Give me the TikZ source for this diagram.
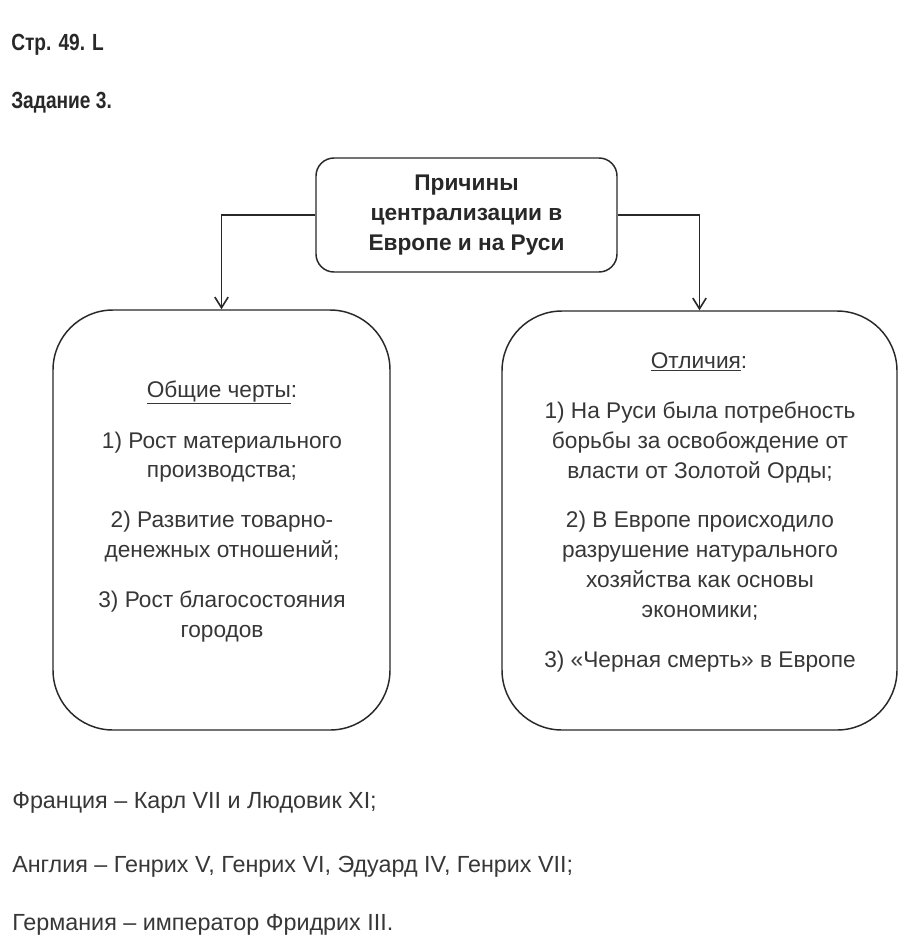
\documentclass[tikz,border=0pt]{standalone}
\usepackage{fontspec}
\setmainfont{Liberation Sans}
\usetikzlibrary{positioning,arrows.meta}
\definecolor{TaskInk}{RGB}{40,40,40}
\definecolor{TaskSoft}{RGB}{55,55,55}
\tikzset{
  task box/.style={
    draw=TaskInk,
    line width=1.1pt,
    fill=white,
    align=center
  },
  task cause/.style={task box, rounded corners=13.5pt, minimum width=225.75pt, minimum height=85.5pt},
  task list/.style={task box, rounded corners=45pt},
  task title/.style={font=\fontsize{17.5}{22.5}\selectfont\bfseries\addfontfeatures{FakeStretch=0.82}, text=TaskInk, anchor=base west, inner sep=0pt},
  task line/.style={font=\fontsize{17}{22.5}\selectfont, text=TaskSoft, anchor=base, inner sep=0pt},
  task arrow/.style={-{Straight Barb[length=8pt,width=10pt]}, line width=1.2pt, TaskInk}
}
\begin{document}
\begin{tikzpicture}[x=0.75pt,y=-0.75pt]
\useasboundingbox[fill=white] (0,0) rectangle (907,946);
\node[task title] (page) at (11,50) {Стр. 49. L};
\node[task title] (task) at (11,108) {Задание 3.};
\node[task cause, font=\fontsize{17}{22.5}\selectfont\bfseries, text=TaskInk] (cause) at (466.5,215) {Причины\\централизации в\\Европе и на Руси};
\node[task list, minimum width=252.75pt, minimum height=315pt] (common) at (221.5,520) {};
\node[task list, minimum width=296.25pt, minimum height=314.25pt] (diff) at (699.5,520.5) {};
\draw[task arrow] (cause.west) -| (common.north);
\draw[task arrow] (cause.east) -| (diff.north);
% left box
\node[task line] (commonhead) at (222,397) {\underline{Общие черты}:};
\foreach \yy/\txt [count=\i] in {448/{1) Рост материального}, 477/{производства;},
    527/{2) Развитие товарно-}, 557/{денежных отношений;},
    607/{3) Рост благосостояния}, 637/{городов}}
  \node[task line] (common\i) at (222,\yy) {\txt};
% right box
\node[task line] (diffhead) at (699,368) {\underline{Отличия}:};
\foreach \yy/\txt [count=\i] in {418/{1) На Руси была потребность}, 448/{борьбы за освобождение от},
    478/{власти от Золотой Орды;}, 527/{2) В Европе происходило},
    557/{разрушение натурального}, 587/{хозяйства как основы},
    617/{экономики;}, 667/{3) «Черная смерть» в Европе}}
  \node[task line] (diff\i) at (700,\yy) {\txt};
% rulers
\foreach \yy/\txt [count=\i] in {808/{Франция – Карл VII и Людовик XI;},
    872/{Англия – Генрих V, Генрих VI, Эдуард IV, Генрих VII;},
    930/{Германия – император Фридрих III.}}
  \node[task line, anchor=base west, font=\fontsize{17.5}{22.5}\selectfont] (ruler\i) at (12,\yy) {\txt};
\end{tikzpicture}
\end{document}
